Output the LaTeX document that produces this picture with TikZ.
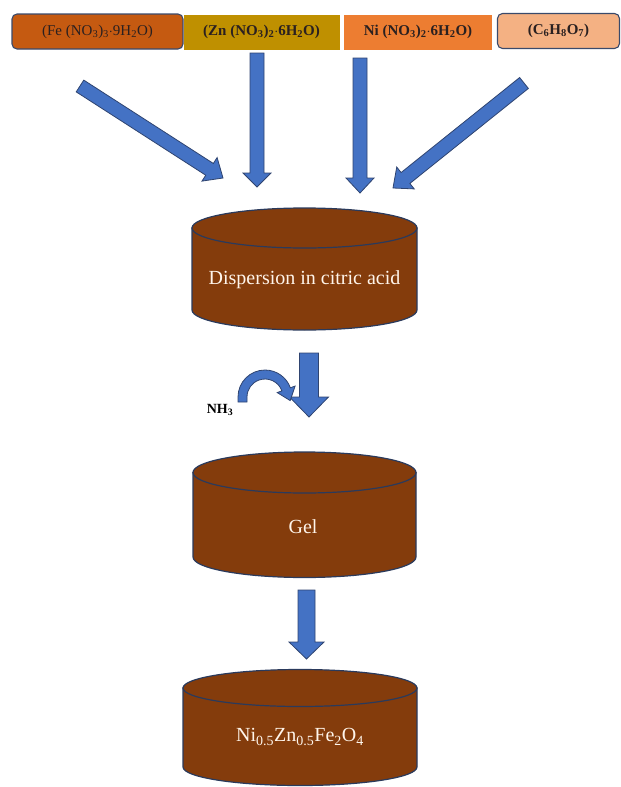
\documentclass[tikz,border=0pt]{standalone}
\usepackage{fontspec}
\setmainfont{Liberation Serif}
\usetikzlibrary{calc}
\definecolor{feC}{HTML}{C55A11}
\definecolor{znC}{HTML}{BF9000}
\definecolor{niC}{HTML}{ED7D31}
\definecolor{cC}{HTML}{F4B183}
\definecolor{boxline}{HTML}{3A4A6B}
\definecolor{cylfill}{HTML}{843C0C}
\definecolor{cylline}{HTML}{2A3A5C}
\definecolor{arrfill}{HTML}{4472C4}
\definecolor{arrline}{HTML}{2F4470}
\definecolor{txtdark}{HTML}{2A2020}
\tikzset{
  chem/.style={minimum height=35pt, inner sep=0pt, font=\fontsize{15}{17}\selectfont, text=txtdark},
  roundbox/.style={chem, rounded corners=5pt, draw=boxline, line width=1.1pt},
  flatbox/.style={chem},
  boldchem/.style={font=\fontsize{15}{17}\selectfont\bfseries},
  barrow/.style={fill=arrfill, draw=arrline, line width=0.8pt, line join=miter},
  cyl/.style={fill=cylfill, draw=cylline, line width=1.2pt},
  cyltext/.style={text=white!92!orange, font=\fontsize{20}{22}\selectfont},
}
\newcommand\blockarrow[5]{%
  \coordinate (#1-#2-h) at ($(#2)!#5!(#1)$);
  \path[barrow] ($(#1)!#3!90:(#2)$) -- ($(#1-#2-h)!#3!90:(#2)$) -- ($(#1-#2-h)!#4!90:(#2)$)
     -- (#2) -- ($(#1-#2-h)!#4!-90:(#2)$) -- ($(#1-#2-h)!#3!-90:(#2)$) -- ($(#1)!#3!-90:(#2)$) -- cycle;}
\newcommand\cylinder[5]{% cx, rx, top cy, bottom cy, ry
  \path[cyl] (#1-#2,-#3) -- (#1-#2,-#4) arc[start angle=180,end angle=360,x radius=#2,y radius=#5]
     -- (#1+#2,-#3) -- cycle;
  \path[cyl] (#1,-#3) ellipse[x radius=#2,y radius=#5];}
\begin{document}
\begin{tikzpicture}[x=1pt,y=1pt]
\useasboundingbox (0,0) rectangle (621,-787);
% top boxes
\node[roundbox, fill=feC, minimum width=171pt] (fe) at (97.5,-31.5) {(Fe (NO\textsubscript{3})\textsubscript{3}$\cdot$9H\textsubscript{2}O)};
\node[flatbox, fill=znC, minimum width=156pt, boldchem] (zn) at (261.5,-32) {(Zn (NO\textsubscript{3})\textsubscript{2}$\cdot$6H\textsubscript{2}O)};
\node[flatbox, fill=niC, minimum width=148pt, boldchem] (ni) at (418,-32) {Ni (NO\textsubscript{3})\textsubscript{2}$\cdot$6H\textsubscript{2}O)};
\node[roundbox, fill=cC, minimum width=122pt, boldchem] (ca) at (558.5,-31) {(C\textsubscript{6}H\textsubscript{8}O\textsubscript{7})};
% arrow end points
\coordinate (a1) at (80,-86);   \coordinate (a2) at (223,-178);
\coordinate (b1) at (257,-53);  \coordinate (b2) at (257,-187);
\coordinate (c1) at (360,-58);  \coordinate (c2) at (360,-193);
\coordinate (d1) at (524,-83);  \coordinate (d2) at (393,-188);
\coordinate (e1) at (309,-353); \coordinate (e2) at (309,-417);
\coordinate (f1) at (306.5,-590); \coordinate (f2) at (306.5,-659);
\blockarrow{a1}{a2}{7pt}{14pt}{16pt}
\blockarrow{b1}{b2}{7pt}{14pt}{14pt}
\blockarrow{c1}{c2}{7pt}{14pt}{15pt}
\blockarrow{d1}{d2}{7pt}{14pt}{16pt}
\blockarrow{e1}{e2}{9.5pt}{19.5pt}{20pt}
\blockarrow{f1}{f2}{8.5pt}{17.5pt}{17pt}
% cylinders
\cylinder{304.5}{112.5}{228}{310}{20}
\node[cyltext] (disp) at (304.5,-280) {Dispersion in citric acid};
\cylinder{304.5}{111.5}{472.5}{557}{20.5}
\node[cyltext] (gel) at (303,-527) {Gel};
\cylinder{300}{117}{688}{767}{18.5}
\node[cyltext] (prod) at (300,-737) {Ni\textsubscript{0.5}Zn\textsubscript{0.5}Fe\textsubscript{2}O\textsubscript{4}};
% NH3 and curved arrow
\node[font=\fontsize{14}{16}\selectfont\bfseries] (nh3) at (220,-410) {NH\textsubscript{3}};
\coordinate (cc) at (265,-397);
\path[barrow] (238,-402) -- ($(cc)+(180:27)$) arc[start angle=180,end angle=20,radius=27]
  -- ($(cc)+(20:32)$) -- (290.2,-400.6) -- ($(cc)+(20:13)$) -- ($(cc)+(20:18)$)
  arc[start angle=20,end angle=180,radius=18] -- (247,-402) -- cycle;
\end{tikzpicture}
\end{document}
